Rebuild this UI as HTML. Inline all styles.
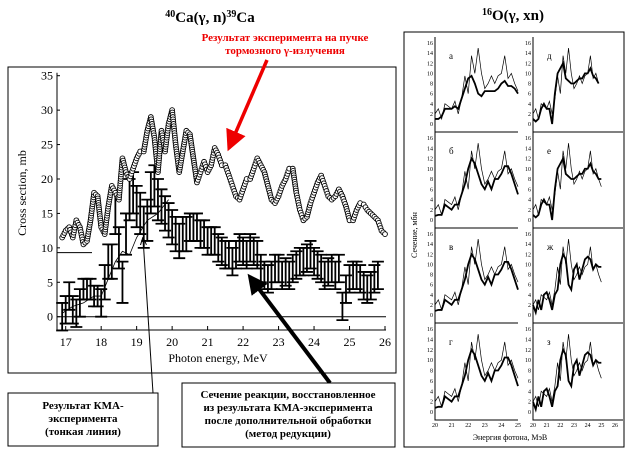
<!DOCTYPE html>
<html><head><meta charset="utf-8"><style>
html,body{margin:0;padding:0;background:#fff;}
svg{display:block;font-family:"Liberation Serif","Noto Serif CJK SC",serif;}
</style></head><body>
<svg id="fig" width="627" height="461" viewBox="0 0 627 461" xmlns="http://www.w3.org/2000/svg">
<defs>
<marker id="ahr" markerWidth="6" markerHeight="6" refX="5" refY="3" orient="auto" markerUnits="strokeWidth"><path d="M0,0 L6,3 L0,6 z" fill="#e00"/></marker>
<marker id="ahb" markerWidth="5" markerHeight="5" refX="4" refY="2.5" orient="auto" markerUnits="strokeWidth"><path d="M0,0 L5,2.5 L0,5 z" fill="#000"/></marker>
<marker id="aht" markerWidth="8" markerHeight="8" refX="7" refY="4" orient="auto" markerUnits="userSpaceOnUse"><path d="M0,1 L8,4 L0,7" fill="none" stroke="#000"/></marker>
</defs>
<text x="210" y="22" text-anchor="middle" font-size="15" font-weight="bold"><tspan font-size="10" dy="-5">40</tspan><tspan dy="5">Ca(γ, n)</tspan><tspan font-size="10" dy="-5">39</tspan><tspan dy="5">Ca</tspan></text>
<text x="513" y="20" text-anchor="middle" font-size="15" font-weight="bold"><tspan font-size="10" dy="-5">16</tspan><tspan dy="5">O(γ, xn)</tspan></text>
<text x="285" y="41" text-anchor="middle" font-size="11" font-weight="bold" fill="#e00"><tspan x="285">Результат эксперимента на пучке</tspan><tspan x="285" dy="13">тормозного γ-излучения</tspan></text>
<rect x="8" y="67" width="388" height="306" fill="none" stroke="#000"/>
<g id="left"></g>
<rect x="404" y="32" width="220" height="415" fill="none" stroke="#000"/>
<g id="right"></g>
<line x1="267" y1="60" x2="229" y2="148" stroke="#e00" stroke-width="3.5" marker-end="url(#ahr)"/>
<line x1="330" y1="383" x2="250" y2="277" stroke="#000" stroke-width="4" marker-end="url(#ahb)"/>
<line x1="153" y1="393" x2="143" y2="238" stroke="#000" stroke-width="1" marker-end="url(#aht)"/>
<rect x="8" y="393" width="150" height="53" fill="#fff" stroke="#000"/>
<text font-size="11" font-weight="bold" text-anchor="middle"><tspan x="83" y="409">Результат КМА-</tspan><tspan x="83" dy="13">эксперимента</tspan><tspan x="83" dy="13">(тонкая линия)</tspan></text>
<rect x="182" y="383" width="213" height="64" fill="#fff" stroke="#000"/>
<text font-size="11" font-weight="bold" text-anchor="middle"><tspan x="288" y="398">Сечение реакции, восстановленное</tspan><tspan x="288" dy="13">из результата КМА-эксперимента</tspan><tspan x="288" dy="13">после дополнительной обработки</tspan><tspan x="288" dy="13">(метод редукции)</tspan></text>
</svg>
<script>
// ---- Left chart data ----
const circE = [16.9,17.0,17.1,17.2,17.3,17.4,17.5,17.6,17.7,17.8,17.9,18.0,18.1,18.2,18.3,18.4,18.5,18.6,18.7,18.8,18.9,19.0,19.1,19.2,19.3,19.4,19.5,19.6,19.7,19.8,19.9,20.0,20.1,20.2,20.3,20.4,20.5,20.6,20.7,20.8,20.9,21.0,21.1,21.2,21.3,21.4,21.5,21.6,21.7,21.8,21.9,22.0,22.1,22.2,22.3,22.4,22.5,22.6,22.7,22.8,22.9,23.0,23.1,23.2,23.3,23.4,23.5,23.6,23.7,23.8,23.9,24.0,24.1,24.2,24.3,24.4,24.5,24.6,24.7,24.8,24.9,25.0,25.1,25.2,25.3,25.4,25.5,25.6,25.7,25.8,25.9,26.0];
const circV = [11.5,12.5,13,11.5,14,13,10.5,11,14,18,17.5,13,12,16,19,18,17,23,21,20,21.5,23,24,24,27,29,26,21,27,24,28,30,25,21,24,27,26.5,23,19.5,21,22.5,21,22,24.5,23.5,22,22,20.5,19,17.5,17,18.5,20,20,21.5,23,22,21,19,17,16.5,17.5,19,20,21.5,21.5,18,15.5,14,14.5,16.5,18,19.5,20.5,19,17.5,17,17.5,18.5,17.5,16,14,14,15.5,16.5,16.3,15.5,15,14.5,14,12.5,12];
const barE = [16.9,17.0,17.1,17.2,17.3,17.4,17.5,17.6,17.7,17.8,17.9,18.0,18.1,18.2,18.3,18.4,18.5,18.6,18.7,18.8,18.9,19.0,19.1,19.2,19.3,19.4,19.5,19.6,19.7,19.8,19.9,20.0,20.1,20.2,20.3,20.4,20.5,20.6,20.7,20.8,20.9,21.0,21.1,21.2,21.3,21.4,21.5,21.6,21.7,21.8,21.9,22.0,22.1,22.2,22.3,22.4,22.5,22.6,22.7,22.8,22.9,23.0,23.1,23.2,23.3,23.4,23.5,23.6,23.7,23.8,23.9,24.0,24.1,24.2,24.3,24.4,24.5,24.6,24.7,24.8,24.9,25.0,25.1,25.2,25.3,25.4,25.5,25.6,25.7,25.8];
const barV = [0,1,3,1,0.5,2,4,4,4,3,3,2,5,8,8,15,10,5,12,17,18,16,15,13,14,18,19,17,16,15,14,13,12,11,12,12,13,13,13,12,12,11,11,11,10,9.5,9,9,8,9,10,9.5,9,10,9.5,9,7,6,5.5,6,7,7,6,6.5,6,7,7.5,8,8,8.5,9,8,7.5,7,6,6.5,7,6,7,1.5,4,5.5,6,6,5.5,4.5,4,4.5,5.5,6];
const barErr = [2,2,2,2,2,2,1.5,1.5,1.5,1.5,1.5,2,2.5,2.5,2.5,3,3,3,3,3,3,3,3,3,3,3,3,3,2.5,2.5,2.5,2.5,2.5,2.5,2.5,2.5,2,2,2,2,2,2,2,2,2,2,2,2,2,2,2,2,2,2,2,2,2,2,2,2,2,2,2,2,2,2,2,2,2,2,2,2,2,2,2,2,2,2,2,2,2,2,2,2,2,2,2,2,2,2];
const thinE = [16.9,17.2,17.5,17.8,18.0,18.2,18.4,18.6,18.8,19.0,19.3,19.6,19.9];
const thinV = [0.5,1.5,2,3,3,5.5,8,9.5,9,11.5,14,15,17];
const xTicks = [17,18,19,20,21,22,23,24,25,26];
const yTicks = [0,5,10,15,20,25,30,35];

// ---- Right panels data ----
const smallE = [20.0,20.2,20.4,20.6,20.8,21.0,21.2,21.4,21.6,21.8,22.0,22.2,22.4,22.6,22.8,23.0,23.2,23.4,23.6,23.8,24.0,24.2,24.4,24.6,24.8,25.0];
const kmaV = [2,3,1,4,3.5,3,4.5,2,5,9.5,6,13.5,10,15,10,7,8,9.5,8,9.5,10,13.5,9,10,8,6.5];
const thickA = [1,1,1.5,3,3,3,3.5,3,5,7,9,9.5,8,6,5.5,6.5,6.5,6.5,6.5,7,8,8.5,7.5,7.5,7,6];
const thickB = [0.8,1,1,3,2.5,2,3,3,5,7,10,12,11,9,7,6,7.5,6,8,8,9,10.5,10.5,9,7,5];
const thickD = [1,0.5,1,3,4,3,3,0,6,10,11,12,9,8.5,8,8,8.5,9,9,10,10,11,9.5,9,8,8];
const thickZh = [2,0.5,3,1,4,4.5,3,1,4,5,10,12,11,6,5,9,10,7,9,11,11.5,11,9,10,9.5,9.5];
const panelLetters = ["а","б","в","г","д","е","ж","з"];
const smallYTicks = [0,2,4,6,8,10,12,14,16];
const leftColTicks = [20,21,22,23,24,25];
const rightColTicks = [20,21,22,23,24,25,26];

const NS = "http://www.w3.org/2000/svg";
function mk(tag, attrs, parent){const e=document.createElementNS(NS,tag);for(const k in attrs)e.setAttribute(k,attrs[k]);parent.appendChild(e);return e;}

// Left axes
const L = document.getElementById('left');
const X0=65.7, X1=385, Y0=316.7, Y35=75.7;
const xs = e => X0 + (e-17)*(X1-X0)/9;
const ys = v => Y0 - v*(Y0-Y35)/35;
let ax = mk('path',{d:`M57,${Y35-3} L57,330 L386,330`,fill:'none',stroke:'#000','stroke-width':1},L);


let zl = mk('line',{x1:57,y1:ys(0),x2:386,y2:ys(0),stroke:'#000'},L);


let hl = mk('line',{x1:57,y1:ys(9.3),x2:92,y2:ys(9.3),stroke:'#000'},L);


xTicks.forEach(t=>{
  const tk=mk('line',{x1:xs(t),y1:330,x2:xs(t),y2:326,stroke:'#000'},L);
  
  
  const tx=mk('text',{x:xs(t),y:346,'text-anchor':'middle','font-size':12},L);
  tx.textContent=t;
  
  
});
yTicks.forEach(t=>{
  const tk=mk('line',{x1:57,y1:ys(t),x2:60,y2:ys(t),stroke:'#000'},L);
  
  
  const tx=mk('text',{x:53,y:ys(t)+4,'text-anchor':'end','font-size':12},L);
  tx.textContent=t;
  
  
});
let xt=mk('text',{x:218,y:362,'text-anchor':'middle','font-size':12},L);
xt.textContent='Photon energy, MeV';


let yt=mk('text',{x:0,y:0,'text-anchor':'middle','font-size':12,transform:'translate(26,193) rotate(-90)'},L);
yt.textContent='Cross section, mb';


// thin line
let tl=mk('polyline',{points:thinE.map((e,i)=>xs(e)+','+ys(thinV[i])).join(' '),fill:'none',stroke:'#000','stroke-width':0.8},L);


// error bars
barE.forEach((e,i)=>{
  const x=xs(e), yl=ys(barV[i]-barErr[i]), yh=ys(barV[i]+barErr[i]);
  const g=mk('path',{d:`M${x},${yl} L${x},${yh} M${x-6},${yl} L${x+6},${yl} M${x-6},${yh} L${x+6},${yh}`,stroke:'#000','stroke-width':1.8,fill:'none'},L);
  
  
});
// circle markers: drawn densely along the data polyline
for(let i=0;i<circE.length;i++){
  const xa=xs(circE[i]), ya=ys(circV[i]);
  const c=mk('circle',{cx:xa,cy:ya,r:2.4,fill:'#fff',stroke:'#000','stroke-width':0.9},L);
  
  
  if(i<circE.length-1){
    const xb=xs(circE[i+1]), yb=ys(circV[i+1]);
    const d=Math.hypot(xb-xa,yb-ya), n=Math.floor(d/2.2);
    for(let k=1;k<n;k++){
      const f=k/n;
      const m=mk('circle',{cx:xa+(xb-xa)*f,cy:ya+(yb-ya)*f,r:2.4,fill:'#fff',stroke:'#000','stroke-width':0.9},L);
      
      
    }
  }
}

// Right panels
const R=document.getElementById('right');
const rowTops=[37,132,228,323], rowH=[95,96,95,97];
const cols=[{x0:435,x1:518,e0:20,e1:25,ticks:leftColTicks},{x0:533,x1:615,e0:20,e1:26,ticks:rightColTicks}];
const thickSets=[thickA,thickB,thickB,thickB,thickD,thickD,thickZh,thickZh];
for(let c=0;c<2;c++){
  const C=cols[c];
  const sx=e=>C.x0+(e-C.e0)*(C.x1-C.x0)/(C.e1-C.e0);
  for(let r=0;r<4;r++){
    const idx=c*4+r, top=rowTops[r], bot=top+rowH[r];
    const sy=v=>(bot-8)-v*((bot-8)-(top+6))/16;
    const g=mk('g',{},R);
    
    
    mk('path',{d:`M${C.x0},${top} L${C.x0},${bot} L${C.x1+(c?8:0)},${bot}`,fill:'none',stroke:'#000','stroke-width':1},g);
    smallYTicks.forEach(t=>{
      const tx=mk('text',{x:C.x0-2,y:sy(t)+2,'text-anchor':'end','font-size':6},g);
      tx.textContent=t;
      
      
    });
    const lt=mk('text',{x:C.x0+14,y:top+22,'font-size':9},g);
    lt.textContent=panelLetters[idx];
    
    
    const n = idx===4 ? 25 : 26;
    const kma=mk('polyline',{points:smallE.slice(0,n).map((e,i)=>sx(e)+','+sy(kmaV[i])).join(' '),fill:'none',stroke:'#000','stroke-width':0.7},g);
    
    
    const th=thickSets[idx];
    const tk=mk('polyline',{points:smallE.slice(0,n).map((e,i)=>sx(e)+','+sy(th[i])).join(' '),fill:'none',stroke:'#000','stroke-width':1.8},g);
    
    
    if(r===3){
      C.ticks.forEach(t=>{
        const tx=mk('text',{x:sx(t),y:bot+7,'text-anchor':'middle','font-size':6},g);
        tx.textContent=t;
        
        
      });
    }
  }
}
let rt=mk('text',{x:0,y:0,'text-anchor':'middle','font-size':8,transform:'translate(417,235) rotate(-90)'},R);
rt.textContent='Сечение, мбн';


let rx=mk('text',{x:510,y:440,'text-anchor':'middle','font-size':8},R);
rx.textContent='Энергия фотона, МэВ';


</script>
</body></html>
